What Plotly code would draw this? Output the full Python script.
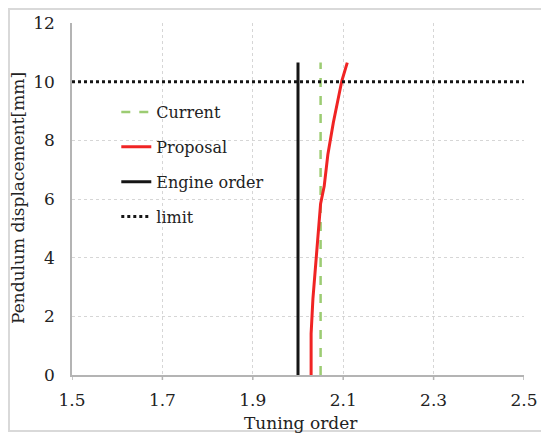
"""Pendulum displacement vs tuning order."""

import plotly.graph_objects as go

# ------------------------------------------------------------------
# data
current_x = [2.05, 2.05]
current_y = [0.0, 10.65]

proposal_x = [2.029, 2.029, 2.033, 2.039, 2.045, 2.050, 2.058, 2.066,
              2.078, 2.087, 2.097, 2.109]
proposal_y = [0.0, 1.41, 2.60, 3.68, 4.64, 5.84, 6.44, 7.51,
              8.59, 9.31, 10.03, 10.65]

engine_x = [2.0, 2.0]
engine_y = [0.0, 10.65]

limit_x = [1.5, 2.5]
limit_y = [10.0, 10.0]

x_ticks = [1.5, 1.7, 1.9, 2.1, 2.3, 2.5]
y_ticks = [0, 2, 4, 6, 8, 10, 12]

FONT = "DejaVu Serif"
SIZE = 17
GRID = "#d6d6d6"
AXIS = "#b4b4b4"

# the page body keeps its default 8px margin, so the figure is 8px smaller
W, H = 541, 426
PW, PH = 452, 352

fig = go.Figure()
fig.add_trace(go.Scatter(x=current_x, y=current_y, mode="lines", name="Current",
                         legendgroup="a",
                         line={"color": "#9ccc72", "width": 2.5, "dash": "dash"}))
fig.add_trace(go.Scatter(x=proposal_x, y=proposal_y, mode="lines", name="Proposal",
                         legendgroup="b",
                         line={"color": "#f02424", "width": 3}))
fig.add_trace(go.Scatter(x=engine_x, y=engine_y, mode="lines", name="Engine order",
                         legendgroup="c",
                         line={"color": "#151515", "width": 3}))
fig.add_trace(go.Scatter(x=limit_x, y=limit_y, mode="lines", name="limit",
                         legendgroup="d",
                         line={"color": "#151515", "width": 3, "dash": "dot"}))

# light frame round the whole picture
fig.add_shape(type="rect", xref="paper", yref="paper",
              x0=-63 / PW, x1=(PW + 22) / PW, y0=-(59 - 3) / PH, y1=(PH + 14) / PH,
              line={"color": "#d9d9d9", "width": 2}, layer="below")

# short tick marks under the x axis
for v in x_ticks:
    fig.add_shape(type="line", xref="x", yref="paper", x0=v, x1=v,
                  y0=0, y1=-5 / PH, line={"color": AXIS, "width": 1.5})

# axis titles
fig.add_annotation(text="Tuning order", xref="paper", yref="paper",
                   x=0.506, y=-0.136, showarrow=False,
                   xanchor="center", yanchor="middle")
fig.add_annotation(text="Pendulum displacement[mm]", xref="paper", yref="paper",
                   x=-0.1195, y=0.503, showarrow=False, textangle=-90,
                   xanchor="center", yanchor="middle")

fig.update_xaxes(
    range=[1.5, 2.5], tickvals=x_ticks, ticktext=[f"{v:.1f}" for v in x_ticks],
    showgrid=True, gridcolor=GRID, griddash="dot", gridwidth=1,
    showline=True, linecolor=AXIS, linewidth=1.5,
    ticks="", ticklabelstandoff=9, zeroline=False,
)
fig.update_yaxes(
    range=[0, 12], tickvals=y_ticks,
    showgrid=True, gridcolor=GRID, griddash="dot", gridwidth=1,
    showline=True, linecolor=AXIS, linewidth=1.5,
    ticks="", ticklabelstandoff=12, zeroline=False,
)

fig.update_layout(
    width=W, height=H,
    margin={"l": 64, "r": W - 64 - PW, "t": 15, "b": H - 15 - PH,
            "autoexpand": False},
    paper_bgcolor="white", plot_bgcolor="white",
    font={"family": FONT, "size": SIZE, "color": "#222222"},
    showlegend=True,
    legend={"x": 0.098, "y": 0.795, "xanchor": "left", "yanchor": "top",
            "bgcolor": "rgba(0,0,0,0)", "font": {"size": 16},
            "tracegroupgap": 11},
)

fig.write_html("out.html")
